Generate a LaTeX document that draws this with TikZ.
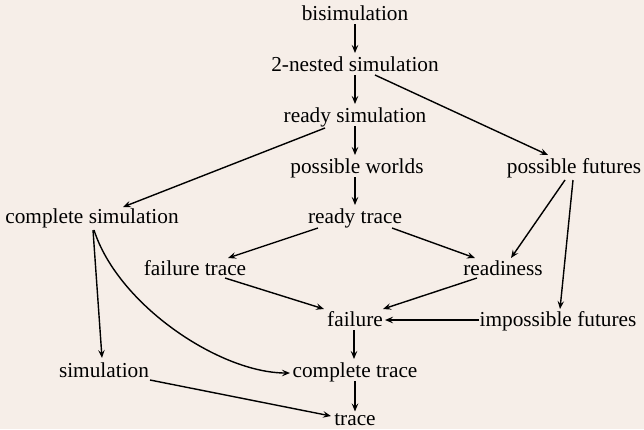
\documentclass[tikz,border=0pt]{standalone}
\usepackage{fontspec}
\setmainfont{Liberation Serif}
\usetikzlibrary{arrows.meta,calc}
\definecolor{bgc}{RGB}{246,238,232}
\begin{document}
\begin{tikzpicture}[x=1pt,y=-1pt,
  lbl/.style={anchor=base,inner sep=0pt,font=\fontsize{21.3}{24}\selectfont},
  arr/.style={line width=1.4pt,-{Stealth[length=8pt,width=6.5pt,inset=3pt]}}]
\fill[bgc] (0,0) rectangle (644,429);
\useasboundingbox (0,0) rectangle (644,429);
\node[lbl] (bis) at (355,20) {bisimulation};
\node[lbl] (n2) at (355,71) {2-nested simulation};
\node[lbl] (rs) at (355,122) {ready simulation};
\node[lbl] (pw) at (357,173) {possible worlds};
\node[lbl] (pf) at (574,173) {possible futures};
\node[lbl] (cs) at (92,223) {complete simulation};
\node[lbl] (rt) at (355,223) {ready trace};
\node[lbl] (ft) at (195,275) {failure trace};
\node[lbl] (rd) at (503,275) {readiness};
\node[lbl] (fl) at (355,326) {failure};
\node[lbl] (if) at (558,326) {impossible futures};
\node[lbl] (sim) at (104,377) {simulation};
\node[lbl] (ct) at (355,377) {complete trace};
\node[lbl] (tr) at (355,425.5) {trace};

\draw[arr] ($(bis.base)+(0,4)$) -- ($(n2.base)+(0,-18)$);
\draw[arr] ($(n2.base)+(0,4)$) -- ($(rs.base)+(0,-18)$);
\draw[arr] ($(n2.base)+(20,4)$) -- ($(pf.base)+(-26,-18)$);
\draw[arr] ($(rs.base)+(0,4)$) -- ($(pw.base)+(-2,-18)$);
\draw[arr] ($(rs.base)+(-30,6)$) -- ($(cs.base)+(31,-16)$);
\draw[arr] ($(pw.base)+(-2,4)$) -- ($(rt.base)+(0,-18)$);
\draw[arr] ($(rt.base)+(-37,5)$) -- ($(ft.base)+(33,-17)$);
\draw[arr] ($(rt.base)+(37,5)$) -- ($(rd.base)+(-28,-17)$);
\draw[arr] ($(pf.base)+(-9,7)$) -- ($(rd.base)+(8,-17)$);
\draw[arr] ($(pf.base)+(-1,7)$) -- ($(if.base)+(2,-17)$);
\draw[arr] ($(ft.base)+(30,3)$) -- ($(fl.base)+(-31,-17)$);
\draw[arr] ($(rd.base)+(-26,3)$) -- ($(fl.base)+(28,-17)$);
\draw[arr] ($(if.base)+(-79,-6)$) -- ($(fl.base)+(30,-6)$);
\draw[arr] ($(fl.base)+(-1,4)$) -- ($(ct.base)+(-1,-18)$);
\draw[arr] ($(cs.base)+(1,7)$) -- ($(sim.base)+(-2,-19)$);
\draw[arr] ($(cs.base)+(2,7)$) .. controls ($(cs.base)+(26,82)$) and ($(ct.base)+(-135,-4)$) .. ($(ct.base)+(-65,-4)$);
\draw[arr] ($(sim.base)+(46,3)$) -- ($(tr.base)+(-24,-9.5)$);
\draw[arr] ($(ct.base)+(0,4)$) -- ($(tr.base)+(0,-14)$);
\end{tikzpicture}
\end{document}
